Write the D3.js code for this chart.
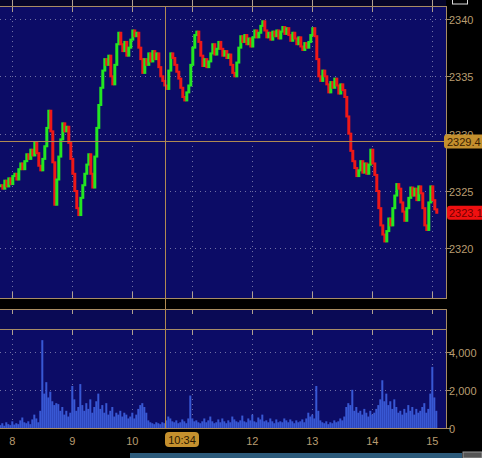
<!DOCTYPE html>
<html>
<head>
<meta charset="utf-8">
<script src="https://cdn.jsdelivr.net/npm/d3@7/dist/d3.min.js"></script>
<style>
html,body{margin:0;padding:0;background:#000;}
svg{display:block;}
text{font-family:"Liberation Sans",Arial,sans-serif;}
</style>
</head>
<body>
<svg id="chart" width="482" height="458"></svg>
<script>
// ---- data (2-minute bars starting at 07:48) ----
const startMinute = -12;   // minutes relative to 08:00
const barMinutes = 2;
const closes = [
  2325.5, 2325.2, 2325.9, 2325.4, 2326.1, 2325.6, 2326.3, 2326.5, 2326.0, 2326.9,
  2327.4, 2326.9, 2327.6, 2328.2, 2327.8, 2328.6, 2328.1, 2329.2, 2328.3, 2327.2,
  2326.8, 2327.8, 2328.9, 2330.5, 2332.0, 2330.2, 2327.5, 2323.8, 2326.0, 2328.0,
  2329.5, 2330.9, 2330.2, 2330.6, 2329.2, 2327.8, 2326.5, 2325.0, 2323.5, 2322.9,
  2324.4, 2325.5, 2326.5, 2327.3, 2328.2, 2326.5, 2325.3, 2328.0, 2330.5, 2332.5,
  2334.0, 2335.5, 2336.5, 2336.0, 2336.8, 2335.0, 2334.3, 2336.0, 2337.8, 2338.8,
  2337.8, 2337.2, 2338.0, 2336.8, 2337.5, 2338.2, 2339.0, 2338.5, 2338.8, 2337.5,
  2336.5, 2335.3, 2336.5, 2336.0, 2337.0, 2336.3, 2337.2, 2336.5, 2337.0, 2335.8,
  2335.0, 2334.6, 2334.2, 2333.9, 2335.5, 2337.0, 2336.6, 2336.0, 2335.4, 2334.8,
  2334.0, 2333.2, 2332.9, 2333.6, 2334.2, 2336.0, 2337.5, 2338.6, 2338.9, 2338.0,
  2336.8, 2335.9, 2336.5, 2335.8, 2336.3, 2337.0, 2337.8, 2336.9, 2337.4, 2338.0,
  2337.4, 2336.8, 2337.2, 2336.6, 2336.9, 2336.0, 2335.3, 2335.0, 2336.2, 2337.5,
  2338.5, 2338.0, 2338.6, 2337.8, 2338.3, 2337.6, 2338.4, 2339.0, 2338.4, 2338.8,
  2339.4, 2339.8, 2339.0, 2338.4, 2338.8, 2338.2, 2338.9, 2338.5, 2339.0, 2338.3,
  2338.9, 2339.3, 2338.7, 2339.2, 2338.6, 2338.1, 2338.8, 2338.3, 2337.8, 2338.4,
  2337.6, 2337.3, 2337.9, 2337.5, 2338.0, 2338.6, 2339.2, 2338.5, 2336.5, 2335.0,
  2334.6, 2335.5, 2335.0, 2334.3, 2333.6, 2334.5, 2334.0, 2334.8, 2334.2, 2333.5,
  2334.3, 2333.8, 2333.2, 2331.5, 2330.0, 2328.5, 2327.6, 2327.0, 2326.3, 2326.8,
  2327.6, 2326.6, 2327.4, 2326.5, 2327.3, 2328.6, 2327.4, 2326.4, 2325.0, 2323.5,
  2322.0, 2321.2, 2320.6, 2321.5, 2322.6, 2322.0, 2323.5, 2324.6, 2325.6, 2325.2,
  2324.0, 2323.2, 2322.4, 2323.5, 2324.4, 2325.3, 2324.6, 2325.2, 2324.2, 2325.4,
  2324.8, 2323.5, 2322.0, 2321.6, 2324.0, 2325.4, 2324.2, 2323.4, 2323.1
];
const volumes = [
  150, 250, 120, 300, 200, 150, 350, 180, 250, 200,
  400, 550, 300, 250, 350, 200, 450, 700, 500, 300,
  900, 4600, 1800, 2400, 1600, 1900, 1400, 1200, 1300, 1250,
  900, 1100, 700, 900, 600, 800, 2200, 1500, 900, 1100,
  2300, 1200, 900, 1300, 1000, 1500, 800, 1100, 1400, 1800,
  1000, 1200, 800, 1300, 700, 900, 1100, 600, 800, 700,
  900, 600, 800, 700, 500, 600, 800, 500, 700, 1000,
  1200, 1300, 1100, 800, 400, 300, 250, 200, 300, 250,
  200, 300, 250, 400, 600, 500, 350, 300, 400, 250,
  300, 450, 350, 250, 500, 1700, 500, 350, 400, 300,
  250, 350, 500, 300, 400, 600, 350, 250, 300, 450,
  300, 500, 350, 250, 400, 300, 600, 450, 350, 300,
  400, 650, 350, 300, 500, 400, 700, 350, 300, 550,
  450, 700, 350, 400, 300, 500, 350, 250, 450, 300,
  350, 300, 500, 400, 300, 450, 350, 250, 400, 300,
  350, 450, 300, 500, 800, 600, 700, 500, 2200, 900,
  400, 300, 250, 350, 200, 300, 250, 400, 300, 350,
  500, 400, 600, 1100, 1300, 1200, 2000, 900, 1100, 800,
  900, 700, 1000, 800, 600, 900, 700, 800, 1000, 1200,
  1500, 2500, 1400, 1800, 1200, 1400, 1000, 1500, 1100, 800,
  900, 700, 1000, 800, 1200, 900, 1100, 700, 1000, 800,
  900, 1100, 1300, 800, 1000, 1800, 3200, 1600, 900
];
const hourTicks = [8, 9, 10, 11, 12, 13, 14, 15];
const priceTicks = [2320, 2325, 2330, 2335, 2340];
const volumeTicks = [0, 2000, 4000];
const crossPrice = 2329.4;
const crossMinute = 153;      // crosshair position
const crossTimeLabel = "10:34";
const lastPrice = 2323.1;

// ---- layout ----
const svg = d3.select("#chart");
const W = 482, H = 458;
const panelRight = 446;
const mainTop = 6, mainBottom = 298;
const stripTop = 309, volTop = 329, volBottom = 428;

const x = d3.scaleLinear().domain([0, 420]).range([12.3, 432.3]);
const y = d3.scaleLinear().domain([2320, 2340]).range([248.3, 19]);
const yv = d3.scaleLinear().domain([0, 4000]).range([428, 351.6]);

const bg = "#0c0c66";
const frame = "#a88c64";
const crossColor = "#b08a52";
const labelColor = "#b89c70";
const gridColor = "#8a8ab4";

svg.append("rect").attr("width", W).attr("height", H).attr("fill", "#000");
svg.append("rect").attr("x", 0).attr("y", 0).attr("width", panelRight).attr("height", mainTop).attr("fill", "#05052a");
svg.append("rect").attr("x", 0).attr("y", mainTop).attr("width", panelRight).attr("height", mainBottom - mainTop).attr("fill", bg);
svg.append("rect").attr("x", 0).attr("y", stripTop).attr("width", panelRight).attr("height", volTop - stripTop).attr("fill", "#0a0a55");
svg.append("rect").attr("x", 0).attr("y", volTop).attr("width", panelRight).attr("height", volBottom - volTop).attr("fill", bg);

// grid
const grid = svg.append("g").attr("stroke", gridColor).attr("stroke-width", 1).attr("stroke-dasharray", "1,4").attr("opacity", 0.8);
hourTicks.forEach(h => {
  const xx = Math.round(x((h - 8) * 60)) + 0.5;
  grid.append("line").attr("x1", xx).attr("x2", xx).attr("y1", mainTop).attr("y2", mainBottom);
  grid.append("line").attr("x1", xx).attr("x2", xx).attr("y1", volTop).attr("y2", volBottom);
});
priceTicks.forEach(p => {
  const yy = Math.round(y(p)) + 0.5;
  grid.append("line").attr("x1", 0).attr("x2", panelRight).attr("y1", yy).attr("y2", yy);
});
volumeTicks.filter(v => v > 0).forEach(v => {
  const yy = Math.round(yv(v)) + 0.5;
  grid.append("line").attr("x1", 0).attr("x2", panelRight).attr("y1", yy).attr("y2", yy);
});

// short tick marks at panel edges
const tk = svg.append("g").attr("stroke", "#b0a090").attr("stroke-width", 1);
hourTicks.forEach(h => {
  const xx = Math.round(x((h - 8) * 60)) + 0.5;
  [[0, 12], [mainBottom - 6, mainBottom], [stripTop, stripTop + 5], [volTop, volTop + 6]].forEach(([a, b]) => {
    tk.append("line").attr("x1", xx).attr("x2", xx).attr("y1", a).attr("y2", b);
  });
});

// bars
const bars = closes.map((c, i) => ({
  t: startMinute + i * barMinutes,
  open: i === 0 ? c : closes[i - 1],
  close: c,
  vol: volumes[i]
}));

svg.append("g").selectAll("rect").data(bars).join("rect")
  .attr("x", d => x(d.t) - 1)
  .attr("width", 2)
  .attr("y", d => yv(d.vol))
  .attr("height", d => yv(0) - yv(d.vol))
  .attr("fill", "#3858d4");

svg.append("g").selectAll("rect").data(bars).join("rect")
  .attr("x", d => x(d.t) - 1)
  .attr("width", 3)
  .attr("y", d => y(Math.max(d.open, d.close)) - 1)
  .attr("height", d => Math.max(3, Math.abs(y(d.open) - y(d.close)) + 2))
  .attr("fill", d => d.close >= d.open ? "#22e622" : "#ee1818");

// frames
const fr = svg.append("g").attr("stroke", frame).attr("stroke-width", 1).attr("fill", "none");
[mainTop, mainBottom, stripTop, volTop, volBottom].forEach(yy => {
  fr.append("line").attr("x1", 0).attr("x2", panelRight).attr("y1", yy + 0.5).attr("y2", yy + 0.5);
});
fr.append("line").attr("x1", panelRight + 0.5).attr("x2", panelRight + 0.5).attr("y1", mainTop).attr("y2", mainBottom + 1);
fr.append("line").attr("x1", panelRight + 0.5).attr("x2", panelRight + 0.5).attr("y1", stripTop).attr("y2", volBottom + 1);

// crosshair
const cx = Math.round(x(crossMinute)) + 0.5;
const cy = Math.round(y(crossPrice)) + 0.5;
const ch = svg.append("g").attr("stroke", crossColor).attr("stroke-width", 1);
ch.append("line").attr("x1", cx).attr("x2", cx).attr("y1", mainTop).attr("y2", volBottom);
ch.append("line").attr("x1", 0).attr("x2", panelRight).attr("y1", cy).attr("y2", cy);

// price / volume axis
const pa = svg.append("g");
priceTicks.forEach(p => {
  const yy = Math.round(y(p)) + 0.5;
  pa.append("line").attr("x1", panelRight).attr("x2", panelRight + 5).attr("y1", yy).attr("y2", yy).attr("stroke", frame);
  pa.append("text").attr("x", 449).attr("y", yy + 4).attr("font-size", 11).attr("fill", labelColor).text(p);
});
volumeTicks.forEach(v => {
  const yy = Math.round(yv(v)) + 0.5;
  pa.append("line").attr("x1", panelRight).attr("x2", panelRight + 5).attr("y1", yy).attr("y2", yy).attr("stroke", frame);
  pa.append("text").attr("x", 449).attr("y", yy + 4).attr("font-size", 11).attr("fill", labelColor).text(d3.format(",")(v));
});

// crosshair price label
pa.append("rect").attr("x", 444).attr("y", cy - 7).attr("width", 40).attr("height", 14).attr("rx", 3).attr("fill", "#c4902e");
pa.append("text").attr("x", 447).attr("y", cy + 4).attr("font-size", 11).attr("fill", "#3a2000").text(crossPrice.toFixed(1));
// last price label
const ly = y(lastPrice);
pa.append("rect").attr("x", 447).attr("y", ly - 7).attr("width", 38).attr("height", 14).attr("rx", 3).attr("fill", "#f01010");
pa.append("text").attr("x", 449).attr("y", ly + 4).attr("font-size", 11).attr("fill", "#700000").text(lastPrice.toFixed(1));

// time axis labels (the hour hidden under the crosshair time box is not drawn)
const ta = svg.append("g");
const boxX0 = cx - 0.5, boxX1 = cx + 33.5;
hourTicks.forEach(h => {
  const xx = x((h - 8) * 60);
  if (xx > boxX0 - 4 && xx < boxX1 + 4) return;
  ta.append("text").attr("x", xx).attr("y", 445).attr("text-anchor", "middle")
    .attr("font-size", 11).attr("fill", labelColor).text(h);
});
ta.append("rect").attr("x", boxX0).attr("y", 432).attr("width", 34).attr("height", 15).attr("rx", 4).attr("fill", "#c4902e");
ta.append("text").attr("x", cx + 16.5).attr("y", 444).attr("text-anchor", "middle").attr("font-size", 11).attr("fill", "#2a1800").text(crossTimeLabel);

// scrollbar strip at bottom
svg.append("rect").attr("x", 130).attr("y", 453).attr("width", 332).attr("height", 5).attr("fill", "#2c5a7a");
svg.append("rect").attr("x", 463).attr("y", 452).attr("width", 19).attr("height", 6).attr("fill", "#555").attr("stroke", "#999");
// small box top right
svg.append("rect").attr("x", 452.5).attr("y", -1).attr("width", 15).attr("height", 5).attr("fill", "none").attr("stroke", "#ddd");
</script>
</body>
</html>
